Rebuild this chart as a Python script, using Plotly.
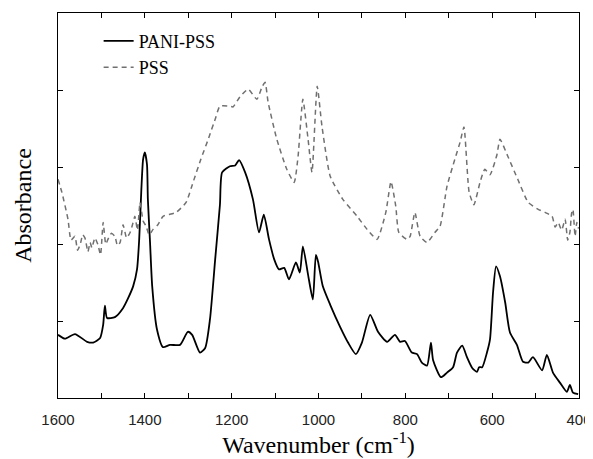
import plotly.graph_objects as go

# PANI-PSS (solid black) - wavenumber / absorbance (a.u.)
pani_wn = [1600, 1584, 1561, 1533, 1519, 1503, 1496, 1492, 1487, 1469, 1450, 1439, 1427,
           1418, 1413, 1408, 1404, 1400, 1395, 1393, 1388, 1383, 1372, 1358, 1342, 1319,
           1301, 1291, 1273, 1261, 1250, 1238, 1227, 1222, 1204, 1192, 1183, 1169, 1151,
           1137, 1126, 1114, 1102, 1091, 1079, 1068, 1052, 1043, 1036, 1024, 1013, 1006,
           1001, 990, 973, 950, 932, 914, 900, 881, 863, 842, 824, 812, 801, 785, 773,
           762, 750, 741, 736, 718, 704, 690, 681, 669, 658, 646, 635, 630, 623, 612,
           605, 598, 591, 582, 570, 559, 543, 529, 517, 506, 485, 474, 460, 444, 428,
           421, 414, 402]
pani_abs = [0.82, 0.77, 0.83, 0.73, 0.72, 0.78, 0.95, 1.20, 1.04, 1.05, 1.17, 1.29, 1.45,
            1.67, 2.06, 2.71, 3.10, 3.19, 3.03, 2.58, 2.02, 1.45, 0.89, 0.66, 0.69, 0.69,
            0.86, 0.82, 0.59, 0.65, 1.02, 1.80, 2.51, 2.93, 3.01, 3.02, 3.09, 2.93, 2.58,
            2.15, 2.38, 2.06, 1.80, 1.67, 1.69, 1.54, 1.76, 1.63, 1.97, 1.60, 1.28, 1.86,
            1.77, 1.45, 1.21, 0.92, 0.72, 0.57, 0.72, 1.08, 0.86, 0.73, 0.82, 0.73, 0.74,
            0.59, 0.57, 0.46, 0.42, 0.72, 0.49, 0.27, 0.33, 0.40, 0.59, 0.68, 0.53, 0.39,
            0.34, 0.40, 0.40, 0.59, 0.76, 1.37, 1.71, 1.58, 1.24, 0.85, 0.69, 0.47, 0.46,
            0.53, 0.36, 0.56, 0.33, 0.20, 0.08, 0.17, 0.07, 0.05]

# PSS (dashed grey)
pss_wn = [1600, 1591, 1577, 1570, 1561, 1555, 1549, 1543, 1538, 1531, 1526, 1522, 1515,
          1508, 1502, 1496, 1490, 1485, 1477, 1469, 1463, 1457, 1450, 1442, 1434, 1428,
          1423, 1417, 1411, 1404, 1397, 1390, 1381, 1370, 1358, 1328, 1305, 1289, 1271,
          1254, 1238, 1227, 1204, 1197, 1181, 1162, 1142, 1130, 1123, 1116, 1096, 1073,
          1056, 1047, 1036, 1024, 1015, 1003, 992, 973, 944, 911, 888, 865, 845, 833,
          822, 815, 796, 789, 778, 766, 750, 732, 720, 704, 686, 674, 665, 653, 642,
          628, 617, 605, 589, 582, 564, 541, 517, 494, 478, 462, 455, 448, 440, 432,
          426, 421, 417, 414, 409, 405, 401]
pss_abs = [2.84, 2.67, 2.32, 2.05, 2.10, 1.92, 1.99, 2.12, 2.08, 1.90, 2.02, 1.95, 2.08,
           1.99, 1.86, 2.28, 2.00, 2.06, 2.14, 2.10, 1.98, 2.02, 2.25, 2.08, 2.15, 2.26,
           2.36, 2.18, 2.54, 2.30, 2.23, 2.12, 2.19, 2.25, 2.36, 2.41, 2.54, 2.80, 3.10,
           3.36, 3.62, 3.79, 3.79, 3.78, 3.91, 4.01, 3.88, 4.04, 4.10, 3.84, 3.36, 2.97,
           2.80, 3.14, 3.88, 3.36, 2.93, 4.05, 3.53, 2.88, 2.58, 2.36, 2.19, 2.06, 2.41,
           2.81, 2.49, 2.15, 2.06, 2.10, 2.41, 2.10, 2.02, 2.15, 2.23, 2.75, 3.10, 3.32,
           3.52, 2.67, 2.51, 2.80, 2.97, 2.90, 3.16, 3.36, 3.14, 2.84, 2.54, 2.45, 2.41,
           2.36, 2.22, 2.28, 2.18, 2.32, 2.05, 2.15, 2.40, 2.45, 2.10, 2.28, 2.20]

fig = go.Figure()
fig.add_trace(go.Scatter(x=pani_wn, y=pani_abs, mode='lines', name='PANI-PSS',
                         line=dict(color='black', width=1.8, shape='spline', smoothing=0.6)))
fig.add_trace(go.Scatter(x=pss_wn, y=pss_abs, mode='lines', name='PSS',
                         line=dict(color='#707070', width=1.5, dash='5px,4px',
                                   shape='spline', smoothing=0.5)))

axis_common = dict(showline=True, linecolor='black', linewidth=1.4, mirror='ticks',
                   ticks='inside', ticklen=5, tickcolor='black', showgrid=False,
                   zeroline=False, automargin=False)

# the page body has an 8px margin, so the figure is a bit smaller than the window
fig.update_layout(
    width=585, height=451,
    margin=dict(l=50, r=14, t=5, b=61),
    plot_bgcolor='white', paper_bgcolor='white',
    showlegend=True,
    legend=dict(x=0.078, y=0.975, xanchor='left', yanchor='top',
                bgcolor='rgba(0,0,0,0)', tracegroupgap=0,
                font=dict(family='Liberation Serif', size=18, color='black')),
    xaxis=dict(range=[1600, 400], dtick=200, tick0=400,
               minor=dict(dtick=100, ticks='inside', ticklen=5, tickcolor='black'),
               tickfont=dict(family='Liberation Sans', size=15, color='#222'),
               ticklabelstandoff=8,
               title=dict(text='Wavenumber (cm<sup>-1</sup>)', standoff=6,
                          font=dict(family='Liberation Serif', size=24, color='black')),
               **axis_common),
    yaxis=dict(range=[0, 5], dtick=1, showticklabels=False,
               title=dict(text='Absorbance', standoff=18,
                          font=dict(family='Liberation Serif', size=24, color='black')),
               **axis_common),
)

fig.write_html("out.html")
